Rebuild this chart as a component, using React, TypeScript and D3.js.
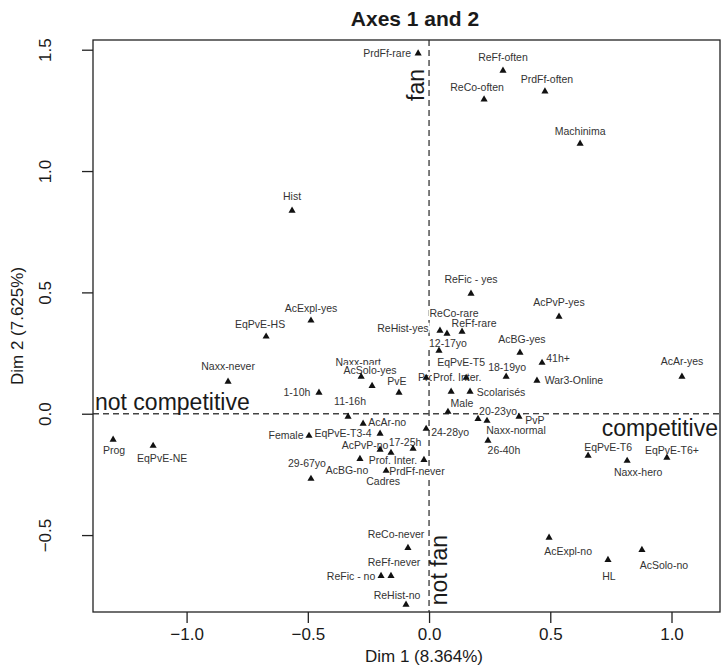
import { useEffect, useRef } from "react";
import * as d3 from "d3";

const WIDTH = 726;
const HEIGHT = 669;

// MCA category coordinates (Dim 1, Dim 2)
const LABELS = [
  "PrdFf-rare", "ReFf-often", "ReCo-often", "PrdFf-often", "Machinima", "Hist",
  "ReFic - yes", "AcPvP-yes", "AcExpl-yes", "EqPvE-HS", "ReHist-yes", "ReCo-rare",
  "ReFf-rare", "12-17yo", "AcBG-yes", "41h+", "18-19yo", "EqPvE-T5", "AcAr-yes",
  "Naxx-never", "Naxx-part", "AcSolo-yes", "PvE", "Prof. Inter.", "Prof. Inter.",
  "War3-Online", "1-10h", "11-16h", "Scolarisés", "Male", "20-23yo", "Naxx-normal",
  "PvP", "26-40h", "EqPvE-T6", "EqPvE-T6+", "Naxx-hero", "AcExpl-no", "HL",
  "AcSolo-no", "ReCo-never", "ReFf-never", "ReFic - no", "ReHist-no", "Prog",
  "EqPvE-NE", "Female", "EqPvE-T3-4", "AcAr-no", "24-28yo", "17-25h", "AcPvP-no",
  "Prof. Inter.", "AcBG-no", "PrdFf-never", "Cadres", "29-67yo",
];

const DIM1 = [
  -0.045, 0.305, 0.227, 0.478, 0.623, -0.565,
  0.173, 0.536, -0.487, -0.672, 0.045, 0.074,
  0.136, 0.041, 0.375, 0.466, 0.318, 0.153, 1.043,
  -0.829, -0.28, -0.235, -0.124, -0.012, 0.091,
  0.445, -0.454, -0.334, 0.169, 0.078, 0.202, 0.239,
  0.371, 0.243, 0.656, 0.981, 0.817, 0.495, 0.738,
  0.878, -0.087, -0.157, -0.198, -0.095, -1.303,
  -1.138, -0.495, -0.202, -0.272, -0.012, -0.066, -0.202,
  -0.157, -0.285, -0.021, -0.177, -0.487,
];

const DIM2 = [
  1.485, 1.414, 1.295, 1.328, 1.113, 0.837,
  0.495, 0.4, 0.384, 0.318, 0.342, 0.33,
  0.338, 0.26, 0.252, 0.21, 0.153, 0.148, 0.153,
  0.132, 0.153, 0.115, 0.087, 0.148, 0.091,
  0.136, 0.087, -0.012, 0.091, 0.008, -0.021, -0.029,
  -0.012, -0.111, -0.173, -0.181, -0.194, -0.511, -0.602,
  -0.561, -0.553, -0.668, -0.668, -0.787, -0.107,
  -0.132, -0.091, -0.082, -0.041, -0.062, -0.144, -0.148,
  -0.161, -0.186, -0.19, -0.235, -0.268,
];

// label placement: offset of the label centre from its point, in px
const NUDGE: [number, number][] = [
  [-31, 0], [0, -14], [-7, -12], [2, -12], [0, -13], [0, -15],
  [0, -15], [0, -15], [0, -13], [-6, -13], [-37, -3], [7, -21],
  [12, -9], [9, -8], [2, -14], [16, -5], [1, -10], [-5, -16], [0, -16],
  [0, -16], [-3, -15], [-2, -16], [-2, -12], [16, -1], [6, -15],
  [37, -1], [-22, -1], [2, -16], [31, 0], [14, -9], [20, -8], [29, 9],
  [16, 3], [16, 9], [20, -9], [5, -8], [11, 11], [19, 13], [1, 16],
  [22, 15], [-12, -14], [3, -14], [-30, 0], [-9, -10], [1, 10],
  [9, 12], [-23, -1], [-37, -1], [24, -2], [24, 3], [-8, -7], [-15, -5],
  [2, 7], [-13, 11], [-7, 11], [-3, 10], [-4, -16],
];

const X_TICKS = [-1.0, -0.5, 0.0, 0.5, 1.0];
const Y_TICKS = [-0.5, 0.0, 0.5, 1.0, 1.5];

const COLORS = {
  axis: "#222",
  text: "#1a1a1a",
  label: "#333",
  point: "#111",
  guide: "#444",
};

const FONT = "'Liberation Sans', Arial, Helvetica, sans-serif";
const plot = { left: 93, right: 720, top: 40, bottom: 612 };

export default function App() {
  const svgRef = useRef<SVGSVGElement>(null);

  useEffect(() => {
    if (!svgRef.current) return;
    const svg = d3.select(svgRef.current);
    svg.selectAll("*").remove();

    const x = d3.scaleLinear().domain([-1.386, 1.2]).range([plot.left, plot.right]);
    const y = d3.scaleLinear().domain([-0.817, 1.54]).range([plot.bottom, plot.top]);

    svg.append("rect").attr("width", WIDTH).attr("height", HEIGHT).attr("fill", "#fff");

    // Title
    svg.append("text")
      .attr("x", 415)
      .attr("y", 26)
      .attr("text-anchor", "middle")
      .attr("font-family", FONT)
      .attr("font-size", 21)
      .attr("font-weight", 700)
      .attr("fill", COLORS.text)
      .text("Axes 1 and 2");

    // Guide lines through the origin
    const guides = svg.append("g").attr("class", "guides");
    guides.append("line")
      .attr("x1", plot.left).attr("x2", plot.right)
      .attr("y1", y(0)).attr("y2", y(0))
      .attr("stroke", COLORS.guide).attr("stroke-width", 1.4)
      .attr("stroke-dasharray", "6,4");
    guides.append("line")
      .attr("x1", x(0)).attr("x2", x(0))
      .attr("y1", plot.top).attr("y2", plot.bottom)
      .attr("stroke", COLORS.guide).attr("stroke-width", 1.4)
      .attr("stroke-dasharray", "6,4");

    // Axis direction annotations
    const notes = svg.append("g")
      .attr("font-family", FONT)
      .attr("font-size", 23)
      .attr("fill", COLORS.text);
    notes.append("text")
      .attr("x", plot.left + 2)
      .attr("y", y(0) - 4)
      .text("not competitive");
    notes.append("text")
      .attr("x", plot.right - 2)
      .attr("y", y(0) + 22)
      .attr("text-anchor", "end")
      .text("competitive");
    notes.append("text")
      .attr("transform", `translate(${x(0) - 5},${plot.top + 45}) rotate(-90)`)
      .attr("text-anchor", "middle")
      .text("fan");
    notes.append("text")
      .attr("transform", `translate(${x(0) + 18},${plot.bottom - 42}) rotate(-90)`)
      .attr("text-anchor", "middle")
      .text("not fan");

    // Category labels with white boxes
    const labels = svg.append("g")
      .attr("font-family", FONT)
      .attr("font-size", 10.5)
      .attr("fill", COLORS.label);

    LABELS.forEach((name, i) => {
      const [dx, dy] = NUDGE[i];
      const lg = labels.append("g");
      const t = lg.append("text")
        .attr("x", x(DIM1[i]) + dx)
        .attr("y", y(DIM2[i]) + dy)
        .attr("text-anchor", "middle")
        .attr("dominant-baseline", "central")
        .text(name);
      const bb = (t.node() as SVGTextElement).getBBox();
      lg.insert("rect", "text")
        .attr("x", bb.x - 1)
        .attr("y", bb.y + 1)
        .attr("width", bb.width + 2)
        .attr("height", bb.height - 2)
        .attr("fill", "#fff");
    });

    // Points
    const tri = d3.symbol().type(d3.symbolTriangle).size(22);
    svg.append("g")
      .selectAll("path")
      .data(LABELS.map((_, i) => i))
      .join("path")
      .attr("d", tri)
      .attr("transform", (i) => `translate(${x(DIM1[i])},${y(DIM2[i])})`)
      .attr("fill", COLORS.point);

    // Frame
    svg.append("rect")
      .attr("x", plot.left).attr("y", plot.top)
      .attr("width", plot.right - plot.left)
      .attr("height", plot.bottom - plot.top)
      .attr("fill", "none")
      .attr("stroke", COLORS.axis)
      .attr("stroke-width", 1.3);

    // X axis
    const xAxis = svg.append("g")
      .attr("transform", `translate(0,${plot.bottom})`)
      .call(d3.axisBottom(x).tickValues(X_TICKS).tickSize(11).tickSizeOuter(0).tickFormat(d3.format(".1f")))
      .call((g) => g.select(".domain").remove());
    xAxis.selectAll("line").attr("stroke", COLORS.axis).attr("stroke-width", 1.3);
    xAxis.selectAll("text")
      .attr("fill", COLORS.text)
      .attr("font-family", FONT)
      .attr("font-size", 17)
      .attr("y", 22)
      .attr("dy", "0.35em");

    // Y axis (labels parallel to the axis)
    const yAxis = svg.append("g")
      .attr("transform", `translate(${plot.left},0)`)
      .call(d3.axisLeft(y).tickValues(Y_TICKS).tickSize(11).tickSizeOuter(0).tickFormat(d3.format(".1f")))
      .call((g) => g.select(".domain").remove());
    yAxis.selectAll("line").attr("stroke", COLORS.axis).attr("stroke-width", 1.3);
    yAxis.selectAll("text")
      .attr("fill", COLORS.text)
      .attr("font-family", FONT)
      .attr("font-size", 17)
      .attr("x", null)
      .attr("dy", null)
      .attr("text-anchor", "middle")
      .attr("transform", "translate(-42,0) rotate(-90)");

    // Axis titles
    svg.append("text")
      .attr("x", 424)
      .attr("y", 662)
      .attr("text-anchor", "middle")
      .attr("font-family", FONT)
      .attr("font-size", 17)
      .attr("fill", COLORS.text)
      .text("Dim 1 (8.364%)");
    svg.append("text")
      .attr("transform", `translate(23,${(plot.top + plot.bottom) / 2}) rotate(-90)`)
      .attr("text-anchor", "middle")
      .attr("font-family", FONT)
      .attr("font-size", 17)
      .attr("fill", COLORS.text)
      .text("Dim 2 (7.625%)");
  }, []);

  return (
    <svg
      ref={svgRef}
      width={WIDTH}
      height={HEIGHT}
      style={{ position: "absolute", left: 0, top: 0, display: "block" }}
    />
  );
}
